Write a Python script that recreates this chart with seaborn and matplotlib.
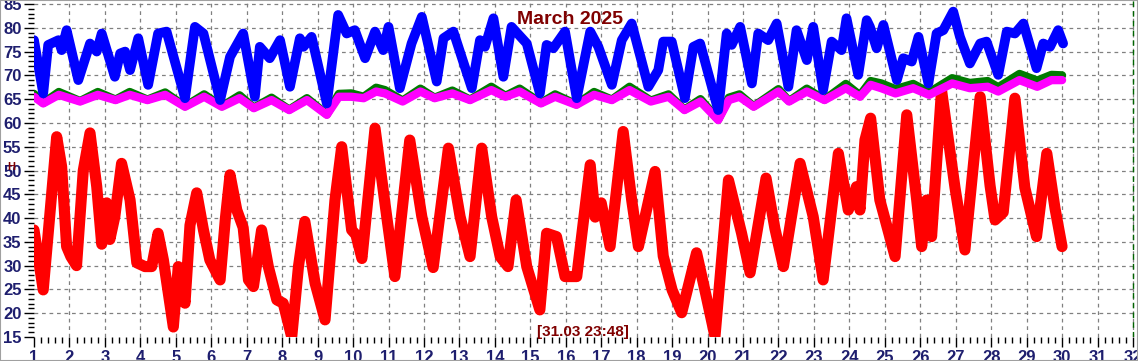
import pandas as pd
import matplotlib.pyplot as plt
import seaborn as sns
from matplotlib.ticker import MultipleLocator
from matplotlib.patches import Rectangle

# red series (lower trace)
red_day = [1.00, 1.26, 1.64, 1.78, 1.92, 2.04, 2.20, 2.39, 2.58, 2.77, 2.91, 3.05, 3.14, 3.28,
           3.47, 3.71, 3.90, 4.13, 4.32, 4.50, 4.65, 4.93, 5.07, 5.26, 5.40, 5.59, 5.78, 5.96,
           6.25, 6.40, 6.53, 6.72, 6.90, 7.05, 7.19, 7.42, 7.61, 7.85, 8.03, 8.27, 8.46, 8.64,
           8.93, 9.21, 9.49, 9.68, 9.96, 10.08, 10.25, 10.62, 10.95, 11.18, 11.60, 11.94, 12.26,
           12.69, 13.02, 13.30, 13.63, 13.91, 14.15, 14.37, 14.60, 14.90, 15.27, 15.46, 15.74,
           15.98, 16.31, 16.69, 16.83, 17.00, 17.25, 17.62, 17.86, 18.05, 18.52, 18.75, 19.00,
           19.27, 19.69, 19.95, 20.21, 20.59, 20.96, 21.20, 21.65, 21.90, 22.14, 22.61, 22.98,
           23.26, 23.69, 23.97, 24.20, 24.30, 24.44, 24.60, 24.86, 25.29, 25.62, 25.90, 26.04,
           26.18, 26.32, 26.60, 26.98, 27.26, 27.69, 27.97, 28.11, 28.34, 28.67, 28.95, 29.28,
           29.57, 29.80, 30.00]
red_val = [37.5, 24.9, 57.1, 50.8, 34.0, 31.9, 30.0, 50.0, 57.9, 46.6, 34.5, 43.2, 35.5, 40.3,
           51.5, 43.8, 30.6, 29.8, 29.8, 36.8, 31.2, 17.1, 29.8, 22.1, 38.5, 45.3, 37.5, 31.2,
           27.0, 40.0, 49.1, 41.7, 38.0, 27.0, 25.6, 37.5, 29.8, 22.8, 22.1, 15.0, 29.8, 39.3,
           26.3, 18.6, 43.8, 55.0, 37.5, 36.5, 31.5, 58.9, 40.3, 27.7, 56.4, 40.3, 29.6,
           54.7, 40.3, 31.9, 54.7, 40.3, 31.9, 29.8, 43.8, 29.8, 20.7, 36.8, 36.1,
           27.7, 27.7, 51.2, 40.2, 43.2, 34.0, 58.2, 43.8, 34.0, 49.8, 32.0, 24.9,
           20.1, 32.7, 24.0, 15.1, 48.0, 36.8, 28.5, 48.4, 37.8, 29.8, 51.5, 40.3,
           27.0, 53.6, 41.7, 46.6, 41.7, 56.4, 61.0, 43.8, 31.9, 61.7, 43.8, 34.0,
           43.8, 36.1, 66.9, 46.4, 33.3, 65.5, 46.8, 39.6, 41.2, 65.2, 46.4, 36.1,
           53.6, 42.1, 34.0]

# blue series (upper trace)
blue_day = [1.00, 1.26, 1.40, 1.69, 1.78, 1.92, 2.25, 2.58, 2.77, 2.91, 3.28, 3.43, 3.57, 3.71,
            3.94, 4.22, 4.50, 4.74, 5.26, 5.54, 5.78, 6.25, 6.53, 6.90, 7.23, 7.37, 7.65, 7.94,
            8.22, 8.50, 8.60, 8.83, 9.26, 9.58, 9.82, 10.05, 10.34, 10.62, 10.85, 11.00, 11.32,
            11.65, 11.94, 12.36, 12.55, 12.83, 13.35, 13.58, 13.72, 13.96, 14.24, 14.47, 14.90,
            15.27, 15.46, 15.65, 15.98, 16.31, 16.69, 16.92, 17.30, 17.58, 17.86, 18.33, 18.61,
            18.75, 18.99, 19.36, 19.60, 19.79, 20.30, 20.54, 20.68, 20.92, 21.25, 21.43, 21.71,
            21.95, 22.28, 22.51, 22.80, 22.98, 23.26, 23.50, 23.78, 23.92, 24.25, 24.49, 24.58,
            24.77, 24.96, 25.34, 25.52, 25.76, 25.95, 26.23, 26.46, 26.65, 26.93, 27.12, 27.40,
            27.69, 27.87, 28.20, 28.44, 28.67, 28.91, 29.28, 29.47, 29.66, 29.89, 30.03]
blue_val = [77.4, 66.2, 76.4, 77.4, 75.3, 79.5, 69.0, 76.7, 75.0, 78.8, 69.7, 74.6, 75.0, 71.1,
            77.8, 68.0, 78.8, 79.2, 65.2, 80.2, 78.8, 64.8, 73.9, 78.8, 65.5, 76.0, 73.6, 77.4,
            67.6, 77.8, 76.0, 78.1, 64.1, 82.7, 78.8, 79.5, 73.6, 79.2, 75.3, 80.2, 67.3,
            76.7, 82.3, 68.7, 77.8, 79.2, 67.3, 77.4, 76.0, 82.0, 69.7, 80.2, 76.7,
            66.2, 76.4, 75.7, 79.2, 65.2, 79.2, 76.0, 68.0, 77.4, 80.9, 67.6, 71.1,
            77.1, 77.1, 65.2, 76.0, 76.7, 62.7, 78.8, 76.4, 80.2, 68.3, 78.8, 77.4,
            80.9, 67.6, 79.5, 73.2, 80.2, 66.9, 77.1, 75.3, 82.0, 70.1, 81.6, 80.2,
            75.7, 80.6, 69.0, 73.6, 72.9, 78.1, 68.3, 78.8, 79.5, 83.4, 78.1, 72.5,
            76.7, 77.1, 70.1, 79.2, 78.8, 80.9, 71.5, 76.7, 76.0, 79.5, 76.7]

# magenta and green series (middle traces)
mid_day = [1.0, 1.26, 1.7, 2.3, 2.8, 3.3, 3.7, 4.2, 4.7, 5.26, 5.8, 6.3, 6.8, 7.2, 7.7, 8.2, 8.7,
           9.26, 9.6, 9.95, 10.3, 10.65, 10.9, 11.4, 11.9, 12.3, 12.8, 13.3, 13.9, 14.3, 14.7,
           15.3, 15.7, 16.3, 16.8, 17.3, 17.8, 18.4, 18.9, 19.35, 19.8, 20.3, 20.6, 20.9, 21.3,
           22.0, 22.3, 22.8, 23.3, 23.9, 24.3, 24.6, 24.9, 25.3, 25.8, 26.25, 26.9, 27.4, 27.9,
           28.2, 28.8, 29.3, 29.7, 30.0]
magenta_val = [65.5, 64.1, 65.9, 64.5, 65.9, 64.8, 65.9, 64.8, 65.9, 63.4, 65.5, 63.4, 65.2, 63.1,
               64.8, 62.7, 64.8, 61.7, 65.5, 65.5, 65.2, 66.6, 66.2, 64.5, 66.6, 65.2, 66.2, 64.8,
               66.9, 65.5, 66.6, 64.1, 65.5, 63.8, 65.9, 64.8, 66.9, 64.5, 65.5, 62.7, 64.5, 60.6,
               64.8, 65.5, 63.4, 66.6, 64.5, 66.6, 64.8, 67.3, 65.5, 68.0, 67.3, 66.2, 67.3, 65.9,
               68.3, 67.3, 67.6, 66.6, 69.0, 67.6, 69.0, 69.0]
green_val = [66.1, 64.2, 66.5, 64.6, 66.5, 64.9, 66.5, 64.9, 66.4, 63.5, 66.0, 63.5, 65.8, 63.2,
             65.3, 62.8, 65.2, 61.8, 66.1, 66.2, 65.5, 67.4, 66.9, 64.7, 67.2, 65.3, 66.8, 64.9,
             67.6, 65.7, 67.2, 64.2, 66.0, 63.9, 66.5, 64.9, 67.6, 64.7, 66.0, 62.8, 65.0, 60.7,
             65.3, 66.0, 63.5, 67.1, 64.6, 67.2, 64.9, 68.2, 65.8, 68.8, 68.3, 67.1, 68.2, 66.4,
             69.4, 68.4, 68.8, 67.5, 70.3, 68.9, 70.1, 70.0]

x_ticks = list(range(1, 33))
y_ticks = list(range(15, 90, 5))

sns.set_style("white")
plt.rcParams['font.family'] = ['Liberation Sans', 'DejaVu Sans']

fig = plt.figure(figsize=(11.38, 3.61), dpi=100)
ax = fig.add_axes([34 / 1138, 1 - 337 / 361, 1104 / 1138, 337 / 361])

line_kw = dict(errorbar=None, solid_joinstyle='round', solid_capstyle='round', ax=ax)
sns.lineplot(data=pd.DataFrame({'day': red_day, 'val': red_val}), x='day', y='val',
             color='#ff0000', linewidth=8.0, **line_kw)
sns.lineplot(data=pd.DataFrame({'day': mid_day, 'val': green_val}), x='day', y='val',
             color='#007a00', linewidth=6.0, **line_kw)
sns.lineplot(data=pd.DataFrame({'day': mid_day, 'val': magenta_val}), x='day', y='val',
             color='#ff00ff', linewidth=6.0, **line_kw)
sns.lineplot(data=pd.DataFrame({'day': blue_day, 'val': blue_val}), x='day', y='val',
             color='#0000ff', linewidth=7.0, **line_kw)

ax.set_xlim(1, 1 + 1104 / 35.45)
ax.set_ylim(15, 85 + 4 / 4.757)
ax.set_xlabel('')
ax.set_ylabel('')
ax.set_xticks(x_ticks)
ax.set_yticks(y_ticks)
ax.xaxis.set_minor_locator(MultipleLocator(0.2))
ax.yaxis.set_minor_locator(MultipleLocator(1))
for s in ax.spines.values():
    s.set_visible(False)

ax.grid(True, which='major', linestyle=(0, (3, 3)), color='#808080', linewidth=0.9)
ax.xaxis.get_gridlines()[0].set_visible(False)
ax.yaxis.get_gridlines()[0].set_visible(False)
ax.set_axisbelow(True)

tick_color = '#1e1e6e'
ax.tick_params(which='major', length=7, width=1, color='black', labelsize=12,
               labelcolor=tick_color, pad=2)
ax.tick_params(which='minor', length=4, width=1, color='black')
ax.tick_params(axis='x', which='both', bottom=True, direction='out')
ax.tick_params(axis='y', which='both', left=True, direction='out')
for lab in ax.get_xticklabels() + ax.get_yticklabels():
    lab.set_fontweight('bold')

ax.axvline(32, color='#006400', linestyle=(0, (4, 3)), linewidth=1)

fig.text(570 / 1138, 1 - 19 / 361, 'March 2025', color='#800000', fontsize=14,
         fontweight='bold', ha='center', va='center')
fig.text(583 / 1138, 1 - 332 / 361, '[31.03 23:48]', color='#800000', fontsize=11,
         fontweight='bold', ha='center', va='center')
fig.text(11 / 1138, 1 - 167 / 361, 'H', color='#800000', fontsize=8,
         fontweight='bold', ha='center', va='center')

fig.patches.append(Rectangle((0, 0), 1, 1, transform=fig.transFigure, fill=False,
                             edgecolor='#a0a0a0', linewidth=1.5))

fig.savefig('out.png', dpi=100)
